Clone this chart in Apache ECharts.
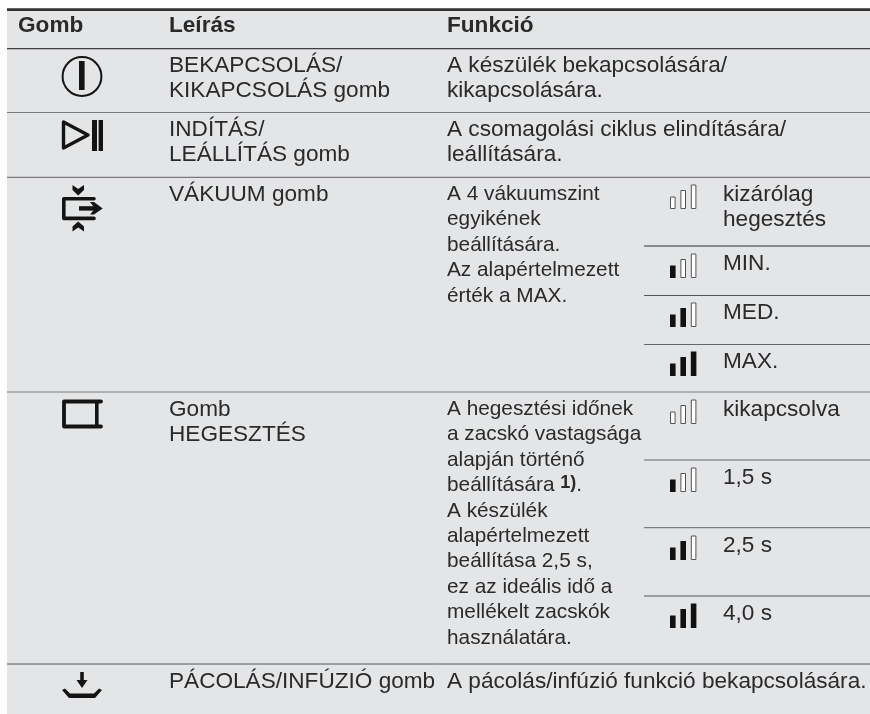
<!DOCTYPE html>
<html>
<head>
<meta charset="utf-8">
<style>html,body{margin:0;padding:0;background:#fff}#c{width:870px;height:714px}</style>
<script src="https://cdn.jsdelivr.net/npm/echarts@6/dist/echarts.min.js"></script>
</head>
<body>
<div id="c"></div>
<script>
// ---------- content ----------
const columnHeaders = ['Gomb', 'Leírás', 'Funkció'];
const buttonIcons = ['power', 'startStop', 'vacuum', 'seal', 'marinate'];
const descriptions = [
  ['BEKAPCSOLÁS/', 'KIKAPCSOLÁS gomb'],
  ['INDÍTÁS/', 'LEÁLLÍTÁS gomb'],
  ['VÁKUUM gomb'],
  ['Gomb', 'HEGESZTÉS'],
  ['PÁCOLÁS/INFÚZIÓ gomb']
];
const functions = [
  ['A készülék bekapcsolására/', 'kikapcsolására.'],
  ['A csomagolási ciklus elindítására/', 'leállítására.'],
  ['A 4 vákuumszint', 'egyikének', 'beállítására.', 'Az alapértelmezett', 'érték a MAX.'],
  ['A hegesztési időnek', 'a zacskó vastagsága', 'alapján történő', 'beállítására {s|1)}.', 'A készülék', 'alapértelmezett', 'beállítása 2,5 s,', 'ez az ideális idő a', 'mellékelt zacskók', 'használatára.'],
  ['A pácolás/infúzió funkció bekapcsolására.']
];
const vacuumLevels = [0, 1, 2, 3];
const vacuumLabels = [['kizárólag', 'hegesztés'], ['MIN.'], ['MED.'], ['MAX.']];
const sealLevels = [0, 1, 2, 3];
const sealLabels = [['kikapcsolva'], ['1,5 s'], ['2,5 s'], ['4,0 s']];

// ---------- layout ----------
const W = 870, H = 714;
const FONT = '"Liberation Sans", Arial, sans-serif';
const FS = 22.6, FS_NARROW = 20.8, LH = 25.4, BASE = 24, BASE_NARROW = 23, MID = 0.28;
const narrowRows = [2, 3];
const INK = '#2b2a2a', BLACK = '#141414';
const PANEL = { x: 7, y: 9 };
const rowTops = [48, 112, 177, 392, 664];
const colX = { head: [18, 169, 447], desc: 169, func: 447, bars: 670, label: 723, sub: 644, icon: 82 };
const vacuumTops = [177, 246, 295, 344];
const sealTops = [392, 460, 528, 596];
const barSpec = { w: 5.6, gap: 10.4, heights: [12.5, 19, 24.5], drop: 32 };

const rules = [
  { y: 9.6, x0: 7, w: 2.8, c: '#333333' },
  { y: 48.6, x0: 7, w: 1.4, c: '#3f3f3f' },
  { y: 112.5, x0: 7, w: 1.2, c: '#7b7b7b' },
  { y: 177.3, x0: 7, w: 1.2, c: '#7b7b7b' },
  { y: 392, x0: 7, w: 1.2, c: '#7b7b7b' },
  { y: 664, x0: 7, w: 1, c: '#555555' },
  { y: 246, x0: colX.sub, w: 1, c: '#333333' },
  { y: 295.5, x0: colX.sub, w: 1, c: '#555555' },
  { y: 344.5, x0: colX.sub, w: 1, c: '#666666' },
  { y: 460, x0: colX.sub, w: 1, c: '#666666' },
  { y: 527.7, x0: colX.sub, w: 1, c: '#666666' },
  { y: 596, x0: colX.sub, w: 1, c: '#555555' }
];

// ---------- collected text lines ----------
const textItems = [];
columnHeaders.forEach((t, i) => textItems.push({ t, x: colX.head[i], b: 32.3, bold: true, fs: FS }));
function pushCell(lines, x, top, fs, base) {
  lines.forEach((t, i) => textItems.push({ t, x, b: top + base + i * LH, fs }));
}
descriptions.forEach((l, i) => pushCell(l, colX.desc, rowTops[i], FS, BASE));
functions.forEach((l, i) => {
  const narrow = narrowRows.includes(i);
  pushCell(l, colX.func, rowTops[i], narrow ? FS_NARROW : FS, narrow ? BASE_NARROW : BASE);
});
vacuumLabels.forEach((l, i) => pushCell(l, colX.label, vacuumTops[i], FS, BASE));
sealLabels.forEach((l, i) => pushCell(l, colX.label, sealTops[i], FS, BASE));

const levelItems = [];
vacuumLevels.forEach((v, i) => levelItems.push({ v, top: vacuumTops[i] }));
sealLevels.forEach((v, i) => levelItems.push({ v, top: sealTops[i] }));

// ---------- icon geometry (relative to table space) ----------
function poly(P, pts, w, closed) {
  const shape = { points: pts.map(p => P(p[0], p[1])) };
  return {
    type: closed ? 'polygon' : 'polyline', shape,
    style: { fill: 'none', stroke: BLACK, lineWidth: w, lineJoin: 'round', lineCap: 'round' }
  };
}
function solid(P, pts) {
  return { type: 'polygon', shape: { points: pts.map(p => P(p[0], p[1])) }, style: { fill: BLACK, stroke: 'none' } };
}
function box(P, x0, y0, x1, y1) {
  const a = P(x0, y0), b = P(x1, y1);
  return { type: 'rect', shape: { x: a[0], y: a[1], width: b[0] - a[0], height: b[1] - a[1] }, style: { fill: BLACK } };
}
const iconDraw = {
  power: P => {
    const c = P(82, 76.5);
    return [
      { type: 'circle', shape: { cx: c[0], cy: c[1], r: 19.4 }, style: { fill: 'none', stroke: BLACK, lineWidth: 2 } },
      box(P, 79, 61, 84.6, 90)
    ];
  },
  startStop: P => [
    poly(P, [[63.5, 122], [63.5, 148], [88, 135]], 3.4, true),
    box(P, 92, 120, 97, 151),
    box(P, 98.6, 120, 103, 151)
  ],
  vacuum: P => [
    poly(P, [[94, 198.7], [63.8, 198.7], [63.8, 218.4], [94, 218.4]], 3.6),
    solid(P, [[72.5, 185], [78.2, 189], [84, 185], [84, 190], [78.2, 195.5], [72.5, 190]]),
    solid(P, [[72.5, 231.5], [78.2, 227.5], [84, 231.5], [84, 226.5], [78.2, 221.5], [72.5, 226.5]]),
    box(P, 79, 206.2, 95, 210.6),
    solid(P, [[90, 202], [94, 202], [102.7, 208.4], [94, 214.6], [90, 214.6], [95, 208.4]])
  ],
  seal: P => [
    poly(P, [[101, 401.5], [64, 401.5], [64, 426.5], [101, 426.5]], 3.8),
    box(P, 95, 401, 98.6, 427)
  ],
  marinate: P => [
    box(P, 80.2, 672, 83.8, 682),
    solid(P, [[76.5, 680], [87.5, 680], [82, 688]]),
    solid(P, [[62, 690], [65, 688.5], [70, 693.5], [94, 693.5], [99, 688.5], [102, 690], [95, 698], [69, 698]])
  ]
};

function textEl(P, d) {
  const isBold = !!d.bold;
  return {
    type: 'text',
    x: P(d.x, 0)[0],
    y: P(0, d.b - d.fs * MID)[1],
    style: {
      text: d.t,
      fill: INK,
      font: (isBold ? 'bold ' : '') + d.fs + 'px ' + FONT,
      fontFamily: FONT, fontSize: d.fs, fontWeight: isBold ? 'bold' : 'normal',
      align: 'left', verticalAlign: 'middle',
      rich: { s: { fontFamily: FONT, fontSize: 18, fontWeight: 'bold', fill: INK, padding: [0, 0, 5, 0] } }
    }
  };
}

const axisHidden = { show: false };
const chart = echarts.init(document.getElementById('c'), null, { renderer: 'canvas', width: W, height: H });
chart.setOption({
  animation: false,
  backgroundColor: '#ffffff',
  grid: { left: 0, right: 0, top: 0, bottom: 0 },
  xAxis: { type: 'value', min: 0, max: W, axisLine: axisHidden, axisTick: axisHidden, axisLabel: axisHidden, splitLine: axisHidden },
  yAxis: { type: 'value', min: 0, max: H, inverse: true, axisLine: axisHidden, axisTick: axisHidden, axisLabel: axisHidden, splitLine: axisHidden },
  tooltip: { show: false },
  series: [
    {
      type: 'custom', coordinateSystem: 'cartesian2d', silent: true, clip: false, z: 1,
      data: [[PANEL.x, PANEL.y]],
      renderItem: (p, api) => {
        const a = api.coord([api.value(0), api.value(1)]), b = api.coord([W, H]);
        return { type: 'rect', shape: { x: a[0], y: a[1], width: b[0] - a[0], height: b[1] - a[1] }, style: { fill: '#e4e5e7' } };
      }
    },
    {
      type: 'custom', coordinateSystem: 'cartesian2d', silent: true, clip: false, z: 2,
      data: rules.map(r => [r.x0, r.y]),
      renderItem: (p, api) => {
        const r = rules[p.dataIndex];
        const a = api.coord([r.x0, r.y]), b = api.coord([W, r.y]);
        return { type: 'line', shape: { x1: a[0], y1: a[1], x2: b[0], y2: b[1] }, style: { stroke: r.c, lineWidth: r.w } };
      }
    },
    {
      type: 'custom', coordinateSystem: 'cartesian2d', silent: true, clip: false, z: 3,
      data: buttonIcons.map((n, i) => [colX.icon, rowTops[i]]),
      renderItem: (p, api) => {
        const P = (x, y) => api.coord([x, y]);
        return { type: 'group', children: iconDraw[buttonIcons[p.dataIndex]](P) };
      }
    },
    {
      type: 'custom', coordinateSystem: 'cartesian2d', silent: true, clip: false, z: 3,
      data: levelItems.map(d => [d.top, d.v]),
      renderItem: (p, api) => {
        const d = levelItems[p.dataIndex];
        const base = d.top + barSpec.drop;
        const children = barSpec.heights.map((h, i) => {
          const a = api.coord([colX.bars + i * barSpec.gap, base - h]);
          const b = api.coord([colX.bars + i * barSpec.gap + barSpec.w, base]);
          const on = i < d.v;
          return on
            ? { type: 'rect', shape: { x: a[0], y: a[1], width: b[0] - a[0], height: b[1] - a[1] }, style: { fill: '#111111' } }
            : { type: 'rect', shape: { x: a[0] + .5, y: a[1] + .5, width: b[0] - a[0] - 1, height: b[1] - a[1] - 1 }, style: { fill: '#ffffff', stroke: '#555555', lineWidth: 1 } };
        });
        return { type: 'group', children };
      }
    },
    {
      type: 'custom', coordinateSystem: 'cartesian2d', silent: true, clip: false, z: 4,
      data: textItems.map(d => [d.x, d.b]),
      renderItem: (p, api) => {
        const P = (x, y) => api.coord([x, y]);
        return textEl(P, textItems[p.dataIndex]);
      }
    }
  ]
});
</script>
</body>
</html>
